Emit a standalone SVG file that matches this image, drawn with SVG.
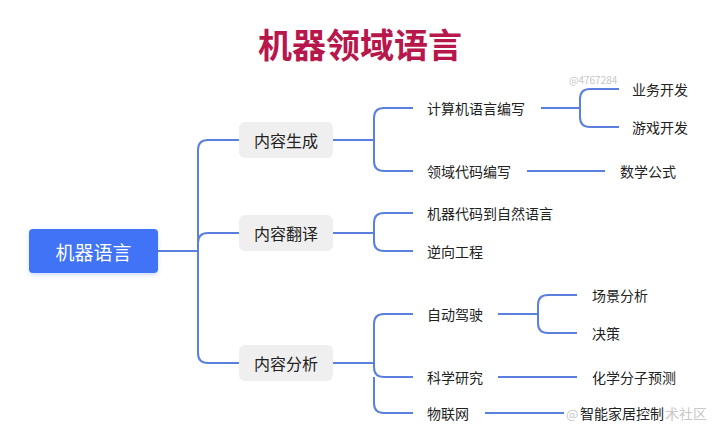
<svg xmlns="http://www.w3.org/2000/svg" width="720" height="437" viewBox="0 0 720 437">
<defs>
<style>
text{font-family:"Noto Sans CJK SC","Noto Sans",sans-serif;dominant-baseline:central}
.t{font-size:14px;fill:#222}
.l1{fill:#efefef}
.l1t{font-size:16px;fill:#222;text-anchor:middle}
.c{fill:none;stroke:#5a7fdc;stroke-width:2}
.wm{fill:#c8c8c8}
</style>
<filter id="sh" x="-20%" y="-30%" width="140%" height="160%">
<feDropShadow dx="0" dy="2" stdDeviation="2" flood-color="#3f73f5" flood-opacity="0.25"/>
</filter>
</defs>
<rect width="720" height="437" fill="#fff"/>
<text x="360" y="43" text-anchor="middle" font-size="34" font-weight="bold" fill="#b8174c">机器领域语言</text>
<text class="wm" x="569" y="79" font-size="10">@4767284</text>
<g id="connectors">
<path class="c" d="M158,251 H198 M198,251 V150 Q198,140 208,140 H239 M198,251 V353 Q198,363 208,363 H239 M198,243 Q198,233 208,233 H239"/>
<path class="c" d="M333,140 H374 M374,140 V118 Q374,108 384,108 H413 M374,140 V161 Q374,171 384,171 H413"/>
<path class="c" d="M333,233 H374 M374,233 V223 Q374,213 384,213 H413 M374,233 V241 Q374,251 384,251 H413"/>
<path class="c" d="M333,363 H374 M374,363 V324 Q374,314 384,314 H413 M374,363 V367 Q374,377 384,377 H413 M374,377 V403 Q374,413 384,413 H413"/>
<path class="c" d="M541,108 H580 M580,108 V99 Q580,89 590,89 H619 M580,108 V117 Q580,127 590,127 H619"/>
<path class="c" d="M527,171 H605"/>
<path class="c" d="M498,314 H538 M538,314 V305 Q538,295 548,295 H577 M538,314 V323 Q538,333 548,333 H577"/>
<path class="c" d="M498,377 H577"/>
<path class="c" d="M485,413 H564"/>
</g>
<g id="root">
<rect x="29" y="229" width="129" height="44" rx="4" fill="#3f73f5" filter="url(#sh)"/>
<text x="93.5" y="251" text-anchor="middle" font-size="19" fill="#fff">机器语言</text>
</g>
<g id="n-gen"><rect class="l1" x="239" y="122" width="94" height="36" rx="6"/><text class="l1t" x="286" y="140">内容生成</text></g>
<g id="n-trans"><rect class="l1" x="239" y="215" width="94" height="36" rx="6"/><text class="l1t" x="286" y="233">内容翻译</text></g>
<g id="n-ana"><rect class="l1" x="239" y="345" width="94" height="36" rx="6"/><text class="l1t" x="286" y="363">内容分析</text></g>
<g id="n-jsj"><text class="t" x="427" y="108">计算机语言编写</text></g>
<g id="n-lydm"><text class="t" x="427" y="171">领域代码编写</text></g>
<g id="n-ywkf"><text class="t" x="632" y="89">业务开发</text></g>
<g id="n-yxkf"><text class="t" x="632" y="127">游戏开发</text></g>
<g id="n-sxgs"><text class="t" x="620" y="171">数学公式</text></g>
<g id="n-jqdm"><text class="t" x="427" y="213">机器代码到自然语言</text></g>
<g id="n-nxgc"><text class="t" x="427" y="251">逆向工程</text></g>
<g id="n-zdjs"><text class="t" x="427" y="314">自动驾驶</text></g>
<g id="n-cjfx"><text class="t" x="592" y="295">场景分析</text></g>
<g id="n-jc"><text class="t" x="592" y="333">决策</text></g>
<g id="n-kxyj"><text class="t" x="427" y="377">科学研究</text></g>
<g id="n-hxfz"><text class="t" x="592" y="377">化学分子预测</text></g>
<g id="n-wlw"><text class="t" x="427" y="413">物联网</text></g>
<text class="wm" x="566" y="413" font-size="13">@</text>
<text class="wm" x="665" y="413" font-size="14">术社区</text>
<g id="n-znjj"><text class="t" x="580" y="413">智能家居控制</text></g>
</svg>
